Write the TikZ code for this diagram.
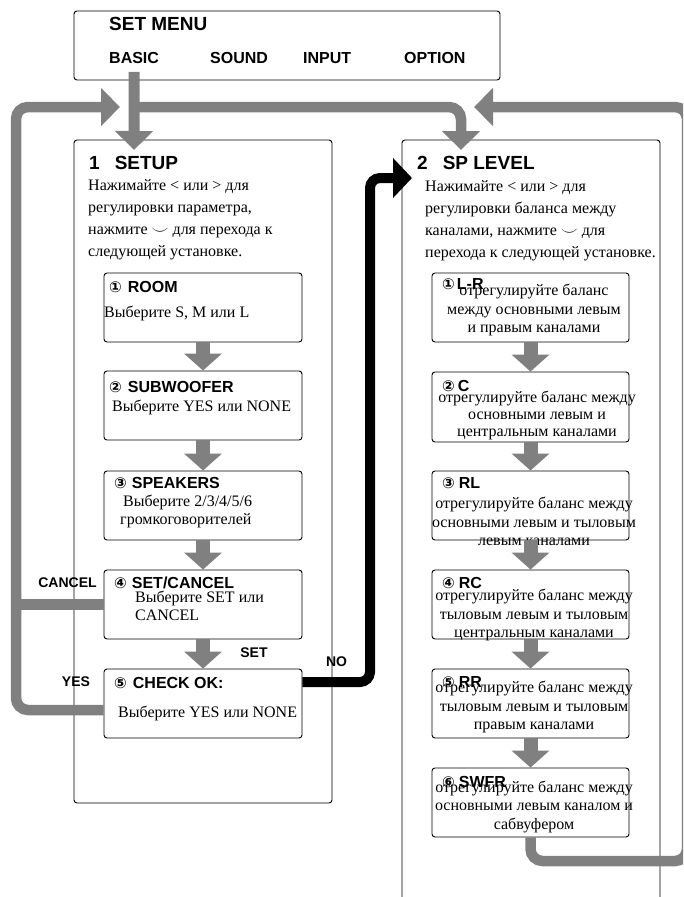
\documentclass[tikz,border=0pt]{standalone}
\usepackage{fontspec}
\setmainfont{Liberation Serif}
\newfontfamily\hdfont{Liberation Sans}
\newfontfamily\circfont{DejaVu Sans}
\usetikzlibrary{arrows.meta,positioning}
\definecolor{flowgray}{RGB}{128,128,128}
\newcommand{\cnum}[1]{{\circfont\fontsize{15}{15}\selectfont #1}}

\begin{document}
\begin{tikzpicture}[x=1pt, y=-1pt,
    panel/.style={draw, line width=0.9pt, rounded corners=3pt, inner sep=0pt},
    stepbox/.style={panel, minimum width=198pt, minimum height=69pt},
    hd/.style={font=\hdfont\bfseries\fontsize{16}{16}\selectfont, inner sep=0pt, anchor=west},
    bighd/.style={hd, font=\hdfont\bfseries\fontsize{19}{19}\selectfont},
    lbl/.style={font=\hdfont\bfseries\fontsize{14}{14}\selectfont, inner sep=0pt},
    txt/.style={font=\fontsize{16}{18}\selectfont, inner sep=0pt, anchor=west, align=left},
    ctxt/.style={font=\fontsize{16}{18.5}\selectfont, inner sep=0pt, align=center},
    flowarrow/.style={draw=flowgray, line width=14pt, -{Triangle[width=37pt,length=17pt]}},
    backline/.style={draw=flowgray, line width=10.5pt, rounded corners=12pt},
    backtip/.style={-{Triangle[width=37pt,length=19pt]}},
    noroute/.style={draw=black, line width=10pt, rounded corners=10pt, -{Triangle[width=39pt,length=19pt]}}]
  \useasboundingbox (0,0) rectangle (683,897);
  \clip (0,0) rectangle (683,897);

  % Menu
  \node[panel, minimum width=426pt, minimum height=69pt] (menu) at (287,45.5) {};
  \node[hd, font=\hdfont\bfseries\fontsize{19}{19}\selectfont] (menuttl) at (109,24) {SET MENU};
  \node[hd] (basic) at (109,58) {BASIC};
  \node[hd] (sound) at (210,58) {SOUND};
  \node[hd] (input) at (303,58) {INPUT};
  \node[hd] (option) at (404,58) {OPTION};

  % Panels
  \node[panel, minimum width=258pt, minimum height=663pt] (setup) at (203,471.5) {};
  \node[panel, minimum width=258pt, minimum height=800pt] (splevel) at (531,540) {};
  \node[bighd] (setupttl) at (89,163) {1\hspace{15pt}SETUP};
  \node[bighd] (splevelttl) at (417,163) {2\hspace{15pt}SP LEVEL};
  \node[txt, font=\fontsize{16}{22}\selectfont] (setuptxt) at (88,220)
    {Нажимайте < или > для\\регулировки параметра,\\нажмите $\smile$ для перехода к\\следующей установке.};
  \node[txt, font=\fontsize{16}{22}\selectfont] (spleveltxt) at (425,221)
    {Нажимайте < или > для\\регулировки баланса между\\каналами, нажмите $\smile$ для\\перехода к следующей установке.};

  % Steps of SETUP
  \node[stepbox] (room) at (203,307.5) {};
  \node[stepbox] (subwoofer) at (203,405.5) {};
  \node[stepbox] (speakers) at (203,505.5) {};
  \node[stepbox] (setcancel) at (203,604.5) {};
  \node[stepbox] (check) at (203,703.5) {};

  \node[hd] (roomttl) at (109,287) {\cnum{①}\hspace{6pt}ROOM};
  \node[txt] (roomtxt) at (104,313) {Выберите S, M или L};
  \node[hd] (subwooferttl) at (109,387) {\cnum{②}\hspace{6pt}SUBWOOFER};
  \node[txt] (subwoofertxt) at (112,407) {Выберите YES или NONE};
  \node[hd] (speakersttl) at (114,483) {\cnum{③}\hspace{5pt}SPEAKERS};
  \node[txt] (speakerstxt) at (120,511) {\hspace{3pt}Выберите 2/3/4/5/6\\громкоговорителей};
  \node[hd] (setcancelttl) at (114,583) {\cnum{④}\hspace{5pt}SET/CANCEL};
  \node[txt] (setcanceltxt) at (135,606) {Выберите SET или\\CANCEL};
  \node[hd] (checkttl) at (114,683) {\cnum{⑤}\hspace{6pt}CHECK OK:};
  \node[txt] (checktxt) at (118,713) {Выберите YES или NONE};

  % Steps of SP LEVEL
  \node[stepbox, minimum width=197pt] (lr) at (530.5,307.5) {};
  \node[stepbox, minimum width=197pt, minimum height=70pt] (cch) at (530.5,407) {};
  \node[stepbox, minimum width=197pt] (rl) at (530.5,505.5) {};
  \node[stepbox, minimum width=197pt] (rc) at (530.5,604.5) {};
  \node[stepbox, minimum width=197pt] (rr) at (530.5,703.5) {};
  \node[stepbox, minimum width=197pt] (swfr) at (530.5,802.5) {};

  \node[hd] (lrttl) at (442,284) {\cnum{①}\hspace{2pt}L-R};
  \node[ctxt] (lrtxt) at (534,310) {отрегулируйте баланс\\между основными левым\\и правым каналами};
  \node[hd] (cchttl) at (442,386) {\cnum{②}\hspace{3pt}C};
  \node[ctxt, font=\fontsize{16}{17}\selectfont] (cchtxt) at (537,415) {отрегулируйте баланс между\\основными левым и\\центральным каналами};
  \node[hd] (rlttl) at (442,483) {\cnum{③}\hspace{4pt}RL};
  \node[ctxt] (rltxt) at (534,521.5) {отрегулируйте баланс между\\основными левым и тыловым\\левым каналами};
  \node[hd] (rcttl) at (442,583) {\cnum{④}\hspace{4pt}RC};
  \node[ctxt] (rctxt) at (534,615) {отрегулируйте баланс между\\тыловым левым и тыловым\\центральным каналами};
  \node[hd] (rrttl) at (442,682) {\cnum{⑤}\hspace{4pt}RR};
  \node[ctxt] (rrtxt) at (534,707) {отрегулируйте баланс между\\тыловым левым и тыловым\\правым каналами};
  \node[hd] (swfrttl) at (442,782) {\cnum{⑥}\hspace{4pt}SWFR};
  \node[ctxt] (swfrtxt) at (534,806.5) {отрегулируйте баланс между\\основными левым каналом и\\сабвуфером};

  % Labels
  \node[lbl] (cancellbl) at (67.5,583) {CANCEL};
  \node[lbl] (yeslbl) at (76,682) {YES};
  \node[lbl] (setlbl) at (254,653) {SET};
  \node[lbl] (nolbl) at (336.5,662) {NO};

  % Connectors
  \coordinate (topjoin) at (134,107);
  \coordinate (setupin) at (134,150);
  \coordinate (splevelin) at (461,150);
  \coordinate (leftrail) at (16,107);
  \coordinate (setupback) at (120,107);
  \coordinate (rightcorner) at (687,861);
  \coordinate (splevelback) at (474,107);
  \coordinate (nobend) at (370,178);
  \coordinate (splevelno) at (412,178);

  \draw[backline, backtip] (topjoin) -| (splevelin);
  \draw[draw=flowgray, line width=11pt, backtip] ([yshift=-8pt]basic.south) -- (setupin);
  \draw[backline, backtip] ([yshift=-6.5pt]check.west) -| (leftrail) -- (setupback);
  \draw[backline, rounded corners=0pt] (setcancel.west) -- (setcancel.west -| leftrail);
  \draw[backline, backtip] (swfr.south) |- (rightcorner) |- (splevelback);
  \draw[noroute] ([yshift=21.5pt]check.east) -| (nobend) -- (splevelno);

  \foreach \a/\b in {room/subwoofer, subwoofer/speakers, speakers/setcancel, setcancel/check,
                     lr/cch, cch/rl, rl/rc, rc/rr, rr/swfr}
    \draw[flowarrow] (\a.south) -- (\b.north);
\end{tikzpicture}
\end{document}
